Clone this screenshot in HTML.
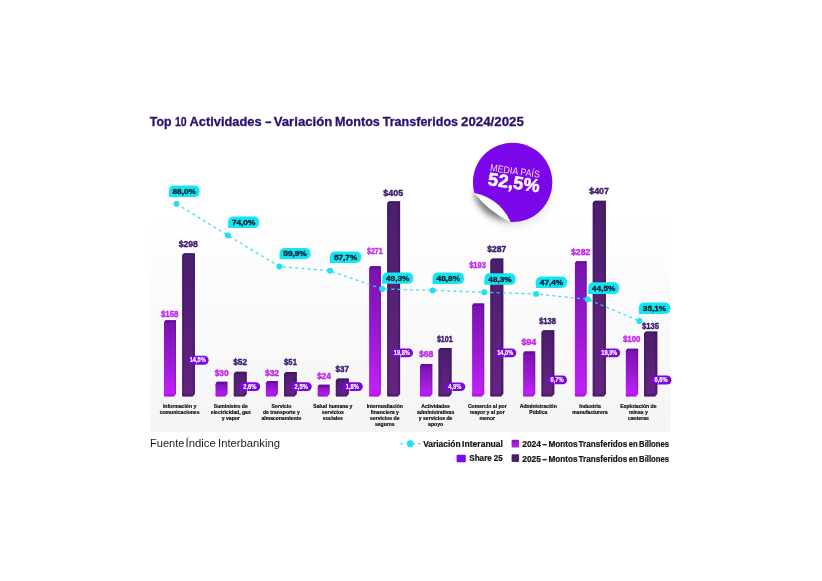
<!DOCTYPE html>
<html><head><meta charset="utf-8"><title>Top 10 Actividades</title>
<style>html,body{margin:0;padding:0;background:#fff;}body{width:822px;height:581px;overflow:hidden;font-family:"Liberation Sans",sans-serif;}svg{display:block;will-change:transform;transform:translateZ(0);}text{font-family:"Liberation Sans",sans-serif;}</style>
</head><body>
<svg width="822" height="581" viewBox="0 0 822 581">
<defs>
<linearGradient id="panel" x1="0" y1="0" x2="0" y2="1"><stop offset="0" stop-color="#ffffff"/><stop offset="0.12" stop-color="#ffffff"/><stop offset="0.45" stop-color="#fbfbfb"/><stop offset="1" stop-color="#f5f5f5"/></linearGradient>
<linearGradient id="pinkF" x1="0" y1="0" x2="0" y2="1"><stop offset="0" stop-color="#7613ae"/><stop offset="0.55" stop-color="#9c1ad4"/><stop offset="1" stop-color="#c521fc"/></linearGradient>
<linearGradient id="pinkS" x1="0" y1="0" x2="0" y2="1"><stop offset="0" stop-color="#5e0f90"/><stop offset="1" stop-color="#a21ad8"/></linearGradient>
<linearGradient id="darkF" x1="0" y1="0" x2="0" y2="1"><stop offset="0" stop-color="#4b1e6d"/><stop offset="1" stop-color="#65247f"/></linearGradient>
<linearGradient id="badge" x1="0" y1="0" x2="1" y2="1"><stop offset="0" stop-color="#8416ea"/><stop offset="1" stop-color="#7a0fe0"/></linearGradient>
<linearGradient id="curl" x1="1" y1="0" x2="0" y2="1"><stop offset="0" stop-color="#ffffff"/><stop offset="0.55" stop-color="#ffffff"/><stop offset="1" stop-color="#ececec"/></linearGradient>
<linearGradient id="lg24" x1="0" y1="0" x2="0" y2="1"><stop offset="0" stop-color="#8a18c0"/><stop offset="1" stop-color="#b822f0"/></linearGradient>
<filter id="sh" x="-50%" y="-50%" width="200%" height="200%"><feGaussianBlur stdDeviation="3"/></filter>
<filter id="sh2" x="-30%" y="-30%" width="160%" height="160%"><feGaussianBlur stdDeviation="5"/></filter>
</defs>
<rect width="822" height="581" fill="#fff"/>
<rect x="150.3" y="180" width="520.2" height="252.1" fill="url(#panel)"/>
<text x="149.8" y="126.4" font-size="13.3" font-weight="700" fill="#2d0f6b" stroke="#2d0f6b" stroke-width="0.3" textLength="21.7" lengthAdjust="spacingAndGlyphs">Top</text>
<text x="174.9" y="126.4" font-size="13.3" font-weight="700" fill="#2d0f6b" stroke="#2d0f6b" stroke-width="0.3" textLength="11.7" lengthAdjust="spacingAndGlyphs">10</text>
<text x="189.5" y="126.4" font-size="13.3" font-weight="700" fill="#2d0f6b" stroke="#2d0f6b" stroke-width="0.3" textLength="72.1" lengthAdjust="spacingAndGlyphs">Actividades</text>
<text x="264.9" y="126.4" font-size="13.3" font-weight="700" fill="#2d0f6b" stroke="#2d0f6b" stroke-width="0.3" textLength="6.8" lengthAdjust="spacingAndGlyphs">-</text>
<text x="273.7" y="126.4" font-size="13.3" font-weight="700" fill="#2d0f6b" stroke="#2d0f6b" stroke-width="0.3" textLength="58.7" lengthAdjust="spacingAndGlyphs">Variación</text>
<text x="335.0" y="126.4" font-size="13.3" font-weight="700" fill="#2d0f6b" stroke="#2d0f6b" stroke-width="0.3" textLength="44.9" lengthAdjust="spacingAndGlyphs">Montos</text>
<text x="382.7" y="126.4" font-size="13.3" font-weight="700" fill="#2d0f6b" stroke="#2d0f6b" stroke-width="0.3" textLength="75.4" lengthAdjust="spacingAndGlyphs">Transferidos</text>
<text x="461.0" y="126.4" font-size="13.3" font-weight="700" fill="#2d0f6b" stroke="#2d0f6b" stroke-width="0.3" textLength="62.8" lengthAdjust="spacingAndGlyphs">2024/2025</text>
<path d="M164.0 322.6 L165.4 320.2 L176.0 320.2 L176.0 393.8 L173.8 396.4 L164.5 396.4 L164.0 395.8 Z" fill="url(#pinkF)"/>
<path d="M174.6 322.6 L176.0 320.2 L176.0 393.8 L174.6 395.0 Z" fill="url(#pinkS)" opacity="0.7"/>
<path d="M164.0 322.6 L165.4 320.2 L176.0 320.2 L174.6 322.6 Z" fill="#650e9a"/>
<path d="M164.0 393.8 L176.0 393.8 L173.8 396.4 L164.5 396.4 L164.0 395.8 Z" fill="#a00cd8" opacity="0.5"/>
<path d="M182.1 255.7 Q182.1 255.1 182.6 254.6 L184.1 253.3 L194.9 253.3 L194.9 393.8 L192.7 396.4 L182.6 396.4 L182.1 395.8 Z" fill="url(#darkF)"/>
<rect x="182.1" y="255.6" width="2.2" height="140.1" fill="#3a1464" opacity="0.35"/>
<path d="M192.9 255.1 L194.9 253.3 L194.9 393.8 L192.9 395.4 Z" fill="#3a1563" opacity="0.6"/>
<path d="M182.1 393.8 L194.9 393.8 L192.7 396.4 L182.6 396.4 L182.1 395.8 Z" fill="#3d1462" opacity="0.45"/>
<path d="M182.1 255.1 L184.1 253.3 L194.9 253.3 L192.9 255.1 Z" fill="#3c1563" opacity="0.7"/>
<path d="M215.5 384.2 L216.9 381.8 L227.4 381.8 L227.4 393.8 L225.2 396.4 L216.0 396.4 L215.5 395.8 Z" fill="url(#pinkF)"/>
<path d="M226.0 384.2 L227.4 381.8 L227.4 393.8 L226.0 395.0 Z" fill="url(#pinkS)" opacity="0.7"/>
<path d="M215.5 384.2 L216.9 381.8 L227.4 381.8 L226.0 384.2 Z" fill="#650e9a"/>
<path d="M215.5 393.8 L227.4 393.8 L225.2 396.4 L216.0 396.4 L215.5 395.8 Z" fill="#a00cd8" opacity="0.5"/>
<path d="M233.8 374.1 Q233.8 373.5 234.3 373.0 L235.8 371.7 L246.7 371.7 L246.7 393.8 L244.5 396.4 L234.3 396.4 L233.8 395.8 Z" fill="url(#darkF)"/>
<rect x="233.8" y="374.0" width="2.2" height="21.7" fill="#3a1464" opacity="0.35"/>
<path d="M244.7 373.5 L246.7 371.7 L246.7 393.8 L244.7 395.4 Z" fill="#3a1563" opacity="0.6"/>
<path d="M233.8 393.8 L246.7 393.8 L244.5 396.4 L234.3 396.4 L233.8 395.8 Z" fill="#3d1462" opacity="0.45"/>
<path d="M233.8 373.5 L235.8 371.7 L246.7 371.7 L244.7 373.5 Z" fill="#3c1563" opacity="0.7"/>
<path d="M265.9 383.3 L267.3 380.9 L277.8 380.9 L277.8 393.8 L275.6 396.4 L266.4 396.4 L265.9 395.8 Z" fill="url(#pinkF)"/>
<path d="M276.4 383.3 L277.8 380.9 L277.8 393.8 L276.4 395.0 Z" fill="url(#pinkS)" opacity="0.7"/>
<path d="M265.9 383.3 L267.3 380.9 L277.8 380.9 L276.4 383.3 Z" fill="#650e9a"/>
<path d="M265.9 393.8 L277.8 393.8 L275.6 396.4 L266.4 396.4 L265.9 395.8 Z" fill="#a00cd8" opacity="0.5"/>
<path d="M284.0 374.5 Q284.0 373.9 284.5 373.4 L286.0 372.1 L296.8 372.1 L296.8 393.8 L294.6 396.4 L284.5 396.4 L284.0 395.8 Z" fill="url(#darkF)"/>
<rect x="284.0" y="374.4" width="2.2" height="21.3" fill="#3a1464" opacity="0.35"/>
<path d="M294.8 373.9 L296.8 372.1 L296.8 393.8 L294.8 395.4 Z" fill="#3a1563" opacity="0.6"/>
<path d="M284.0 393.8 L296.8 393.8 L294.6 396.4 L284.5 396.4 L284.0 395.8 Z" fill="#3d1462" opacity="0.45"/>
<path d="M284.0 373.9 L286.0 372.1 L296.8 372.1 L294.8 373.9 Z" fill="#3c1563" opacity="0.7"/>
<path d="M317.7 387.1 L319.1 384.7 L329.6 384.7 L329.6 393.8 L327.4 396.4 L318.2 396.4 L317.7 395.8 Z" fill="url(#pinkF)"/>
<path d="M328.2 387.1 L329.6 384.7 L329.6 393.8 L328.2 395.0 Z" fill="url(#pinkS)" opacity="0.7"/>
<path d="M317.7 387.1 L319.1 384.7 L329.6 384.7 L328.2 387.1 Z" fill="#650e9a"/>
<path d="M317.7 393.8 L329.6 393.8 L327.4 396.4 L318.2 396.4 L317.7 395.8 Z" fill="#a00cd8" opacity="0.5"/>
<path d="M335.8 380.9 Q335.8 380.3 336.3 379.8 L337.8 378.5 L348.8 378.5 L348.8 393.8 L346.6 396.4 L336.3 396.4 L335.8 395.8 Z" fill="url(#darkF)"/>
<rect x="335.8" y="380.8" width="2.2" height="14.9" fill="#3a1464" opacity="0.35"/>
<path d="M346.8 380.3 L348.8 378.5 L348.8 393.8 L346.8 395.4 Z" fill="#3a1563" opacity="0.6"/>
<path d="M335.8 393.8 L348.8 393.8 L346.6 396.4 L336.3 396.4 L335.8 395.8 Z" fill="#3d1462" opacity="0.45"/>
<path d="M335.8 380.3 L337.8 378.5 L348.8 378.5 L346.8 380.3 Z" fill="#3c1563" opacity="0.7"/>
<path d="M369.1 268.6 L370.5 266.2 L380.9 266.2 L380.9 393.8 L378.7 396.4 L369.6 396.4 L369.1 395.8 Z" fill="url(#pinkF)"/>
<path d="M379.5 268.6 L380.9 266.2 L380.9 393.8 L379.5 395.0 Z" fill="url(#pinkS)" opacity="0.7"/>
<path d="M369.1 268.6 L370.5 266.2 L380.9 266.2 L379.5 268.6 Z" fill="#650e9a"/>
<path d="M369.1 393.8 L380.9 393.8 L378.7 396.4 L369.6 396.4 L369.1 395.8 Z" fill="#a00cd8" opacity="0.5"/>
<path d="M387.1 203.7 Q387.1 203.1 387.6 202.6 L389.1 201.3 L400.1 201.3 L400.1 393.8 L397.9 396.4 L387.6 396.4 L387.1 395.8 Z" fill="url(#darkF)"/>
<rect x="387.1" y="203.6" width="2.2" height="192.1" fill="#3a1464" opacity="0.35"/>
<path d="M398.1 203.1 L400.1 201.3 L400.1 393.8 L398.1 395.4 Z" fill="#3a1563" opacity="0.6"/>
<path d="M387.1 393.8 L400.1 393.8 L397.9 396.4 L387.6 396.4 L387.1 395.8 Z" fill="#3d1462" opacity="0.45"/>
<path d="M387.1 203.1 L389.1 201.3 L400.1 201.3 L398.1 203.1 Z" fill="#3c1563" opacity="0.7"/>
<path d="M420.0 366.4 L421.4 364.0 L432.3 364.0 L432.3 393.8 L430.1 396.4 L420.5 396.4 L420.0 395.8 Z" fill="url(#pinkF)"/>
<path d="M430.9 366.4 L432.3 364.0 L432.3 393.8 L430.9 395.0 Z" fill="url(#pinkS)" opacity="0.7"/>
<path d="M420.0 366.4 L421.4 364.0 L432.3 364.0 L430.9 366.4 Z" fill="#650e9a"/>
<path d="M420.0 393.8 L432.3 393.8 L430.1 396.4 L420.5 396.4 L420.0 395.8 Z" fill="#a00cd8" opacity="0.5"/>
<path d="M438.4 350.4 Q438.4 349.8 438.9 349.3 L440.4 348.0 L451.6 348.0 L451.6 393.8 L449.4 396.4 L438.9 396.4 L438.4 395.8 Z" fill="url(#darkF)"/>
<rect x="438.4" y="350.3" width="2.2" height="45.4" fill="#3a1464" opacity="0.35"/>
<path d="M449.6 349.8 L451.6 348.0 L451.6 393.8 L449.6 395.4 Z" fill="#3a1563" opacity="0.6"/>
<path d="M438.4 393.8 L451.6 393.8 L449.4 396.4 L438.9 396.4 L438.4 395.8 Z" fill="#3d1462" opacity="0.45"/>
<path d="M438.4 349.8 L440.4 348.0 L451.6 348.0 L449.6 349.8 Z" fill="#3c1563" opacity="0.7"/>
<path d="M472.1 305.8 L473.5 303.4 L484.2 303.4 L484.2 393.8 L482.0 396.4 L472.6 396.4 L472.1 395.8 Z" fill="url(#pinkF)"/>
<path d="M482.8 305.8 L484.2 303.4 L484.2 393.8 L482.8 395.0 Z" fill="url(#pinkS)" opacity="0.7"/>
<path d="M472.1 305.8 L473.5 303.4 L484.2 303.4 L482.8 305.8 Z" fill="#650e9a"/>
<path d="M472.1 393.8 L484.2 393.8 L482.0 396.4 L472.6 396.4 L472.1 395.8 Z" fill="#a00cd8" opacity="0.5"/>
<path d="M490.3 260.9 Q490.3 260.3 490.8 259.8 L492.3 258.5 L503.3 258.5 L503.3 393.8 L501.1 396.4 L490.8 396.4 L490.3 395.8 Z" fill="url(#darkF)"/>
<rect x="490.3" y="260.8" width="2.2" height="134.9" fill="#3a1464" opacity="0.35"/>
<path d="M501.3 260.3 L503.3 258.5 L503.3 393.8 L501.3 395.4 Z" fill="#3a1563" opacity="0.6"/>
<path d="M490.3 393.8 L503.3 393.8 L501.1 396.4 L490.8 396.4 L490.3 395.8 Z" fill="#3d1462" opacity="0.45"/>
<path d="M490.3 260.3 L492.3 258.5 L503.3 258.5 L501.3 260.3 Z" fill="#3c1563" opacity="0.7"/>
<path d="M523.1 353.8 L524.5 351.4 L535.2 351.4 L535.2 393.8 L533.0 396.4 L523.6 396.4 L523.1 395.8 Z" fill="url(#pinkF)"/>
<path d="M533.8 353.8 L535.2 351.4 L535.2 393.8 L533.8 395.0 Z" fill="url(#pinkS)" opacity="0.7"/>
<path d="M523.1 353.8 L524.5 351.4 L535.2 351.4 L533.8 353.8 Z" fill="#650e9a"/>
<path d="M523.1 393.8 L535.2 393.8 L533.0 396.4 L523.6 396.4 L523.1 395.8 Z" fill="#a00cd8" opacity="0.5"/>
<path d="M541.4 332.7 Q541.4 332.1 541.9 331.6 L543.4 330.3 L554.3 330.3 L554.3 393.8 L552.1 396.4 L541.9 396.4 L541.4 395.8 Z" fill="url(#darkF)"/>
<rect x="541.4" y="332.6" width="2.2" height="63.1" fill="#3a1464" opacity="0.35"/>
<path d="M552.3 332.1 L554.3 330.3 L554.3 393.8 L552.3 395.4 Z" fill="#3a1563" opacity="0.6"/>
<path d="M541.4 393.8 L554.3 393.8 L552.1 396.4 L541.9 396.4 L541.4 395.8 Z" fill="#3d1462" opacity="0.45"/>
<path d="M541.4 332.1 L543.4 330.3 L554.3 330.3 L552.3 332.1 Z" fill="#3c1563" opacity="0.7"/>
<path d="M574.9 263.6 L576.3 261.2 L586.6 261.2 L586.6 393.8 L584.4 396.4 L575.4 396.4 L574.9 395.8 Z" fill="url(#pinkF)"/>
<path d="M585.2 263.6 L586.6 261.2 L586.6 393.8 L585.2 395.0 Z" fill="url(#pinkS)" opacity="0.7"/>
<path d="M574.9 263.6 L576.3 261.2 L586.6 261.2 L585.2 263.6 Z" fill="#650e9a"/>
<path d="M574.9 393.8 L586.6 393.8 L584.4 396.4 L575.4 396.4 L574.9 395.8 Z" fill="#a00cd8" opacity="0.5"/>
<path d="M592.7 203.1 Q592.7 202.5 593.2 202.0 L594.7 200.7 L605.9 200.7 L605.9 393.8 L603.7 396.4 L593.2 396.4 L592.7 395.8 Z" fill="url(#darkF)"/>
<rect x="592.7" y="203.0" width="2.2" height="192.7" fill="#3a1464" opacity="0.35"/>
<path d="M603.9 202.5 L605.9 200.7 L605.9 393.8 L603.9 395.4 Z" fill="#3a1563" opacity="0.6"/>
<path d="M592.7 393.8 L605.9 393.8 L603.7 396.4 L593.2 396.4 L592.7 395.8 Z" fill="#3d1462" opacity="0.45"/>
<path d="M592.7 202.5 L594.7 200.7 L605.9 200.7 L603.9 202.5 Z" fill="#3c1563" opacity="0.7"/>
<path d="M625.8 351.1 L627.2 348.7 L638.1 348.7 L638.1 393.8 L635.9 396.4 L626.3 396.4 L625.8 395.8 Z" fill="url(#pinkF)"/>
<path d="M636.7 351.1 L638.1 348.7 L638.1 393.8 L636.7 395.0 Z" fill="url(#pinkS)" opacity="0.7"/>
<path d="M625.8 351.1 L627.2 348.7 L638.1 348.7 L636.7 351.1 Z" fill="#650e9a"/>
<path d="M625.8 393.8 L638.1 393.8 L635.9 396.4 L626.3 396.4 L625.8 395.8 Z" fill="#a00cd8" opacity="0.5"/>
<path d="M644.0 333.9 Q644.0 333.3 644.5 332.8 L646.0 331.5 L657.3 331.5 L657.3 393.8 L655.1 396.4 L644.5 396.4 L644.0 395.8 Z" fill="url(#darkF)"/>
<rect x="644.0" y="333.8" width="2.2" height="61.9" fill="#3a1464" opacity="0.35"/>
<path d="M655.3 333.3 L657.3 331.5 L657.3 393.8 L655.3 395.4 Z" fill="#3a1563" opacity="0.6"/>
<path d="M644.0 393.8 L657.3 393.8 L655.1 396.4 L644.5 396.4 L644.0 395.8 Z" fill="#3d1462" opacity="0.45"/>
<path d="M644.0 333.3 L646.0 331.5 L657.3 331.5 L655.3 333.3 Z" fill="#3c1563" opacity="0.7"/>
<text x="161.0" y="317.1" font-size="8.3" font-weight="700" fill="#c128ea" stroke="#c128ea" stroke-width="0.4" textLength="17.4" lengthAdjust="spacingAndGlyphs">$158</text>
<text x="178.8" y="247.3" font-size="8.3" font-weight="700" fill="#3a1a6a" stroke="#3a1a6a" stroke-width="0.4" textLength="19.1" lengthAdjust="spacingAndGlyphs">$298</text>
<text x="214.7" y="375.9" font-size="8.3" font-weight="700" fill="#c128ea" stroke="#c128ea" stroke-width="0.4" textLength="14.0" lengthAdjust="spacingAndGlyphs">$30</text>
<text x="233.2" y="365.0" font-size="8.3" font-weight="700" fill="#3a1a6a" stroke="#3a1a6a" stroke-width="0.4" textLength="14.0" lengthAdjust="spacingAndGlyphs">$52</text>
<text x="265.0" y="375.9" font-size="8.3" font-weight="700" fill="#c128ea" stroke="#c128ea" stroke-width="0.4" textLength="14.0" lengthAdjust="spacingAndGlyphs">$32</text>
<text x="284.1" y="365.0" font-size="8.3" font-weight="700" fill="#3a1a6a" stroke="#3a1a6a" stroke-width="0.4" textLength="12.8" lengthAdjust="spacingAndGlyphs">$51</text>
<text x="316.9" y="379.2" font-size="8.3" font-weight="700" fill="#c128ea" stroke="#c128ea" stroke-width="0.4" textLength="14.0" lengthAdjust="spacingAndGlyphs">$24</text>
<text x="335.5" y="371.9" font-size="8.3" font-weight="700" fill="#3a1a6a" stroke="#3a1a6a" stroke-width="0.4" textLength="13.4" lengthAdjust="spacingAndGlyphs">$37</text>
<text x="367.1" y="253.5" font-size="8.3" font-weight="700" fill="#c128ea" stroke="#c128ea" stroke-width="0.4" textLength="15.5" lengthAdjust="spacingAndGlyphs">$271</text>
<text x="383.3" y="195.6" font-size="8.3" font-weight="700" fill="#3a1a6a" stroke="#3a1a6a" stroke-width="0.4" textLength="19.8" lengthAdjust="spacingAndGlyphs">$405</text>
<text x="418.9" y="357.4" font-size="8.3" font-weight="700" fill="#c128ea" stroke="#c128ea" stroke-width="0.4" textLength="14.5" lengthAdjust="spacingAndGlyphs">$68</text>
<text x="436.9" y="341.5" font-size="8.3" font-weight="700" fill="#3a1a6a" stroke="#3a1a6a" stroke-width="0.4" textLength="15.9" lengthAdjust="spacingAndGlyphs">$101</text>
<text x="469.2" y="267.7" font-size="8.3" font-weight="700" fill="#c128ea" stroke="#c128ea" stroke-width="0.4" textLength="16.7" lengthAdjust="spacingAndGlyphs">$193</text>
<text x="487.2" y="252.4" font-size="8.3" font-weight="700" fill="#3a1a6a" stroke="#3a1a6a" stroke-width="0.4" textLength="19.0" lengthAdjust="spacingAndGlyphs">$287</text>
<text x="521.4" y="344.8" font-size="8.3" font-weight="700" fill="#c128ea" stroke="#c128ea" stroke-width="0.4" textLength="14.7" lengthAdjust="spacingAndGlyphs">$94</text>
<text x="538.9" y="323.7" font-size="8.3" font-weight="700" fill="#3a1a6a" stroke="#3a1a6a" stroke-width="0.4" textLength="17.1" lengthAdjust="spacingAndGlyphs">$138</text>
<text x="571.1" y="254.5" font-size="8.3" font-weight="700" fill="#c128ea" stroke="#c128ea" stroke-width="0.4" textLength="19.1" lengthAdjust="spacingAndGlyphs">$282</text>
<text x="589.2" y="194.0" font-size="8.3" font-weight="700" fill="#3a1a6a" stroke="#3a1a6a" stroke-width="0.4" textLength="19.8" lengthAdjust="spacingAndGlyphs">$407</text>
<text x="623.0" y="341.8" font-size="8.3" font-weight="700" fill="#c128ea" stroke="#c128ea" stroke-width="0.4" textLength="17.5" lengthAdjust="spacingAndGlyphs">$100</text>
<text x="642.0" y="328.8" font-size="8.3" font-weight="700" fill="#3a1a6a" stroke="#3a1a6a" stroke-width="0.4" textLength="17.0" lengthAdjust="spacingAndGlyphs">$135</text>
<rect x="188.2" y="355.8" width="20.4" height="8.9" rx="4.4" fill="#7a08dc"/>
<text x="189.7" y="362.4" font-size="6.3" font-weight="700" fill="#ffffff" stroke="#fff" stroke-width="0.18" textLength="16.0" lengthAdjust="spacingAndGlyphs">14,5%</text>
<rect x="239.5" y="382.2" width="20.7" height="8.8" rx="4.4" fill="#7a08dc"/>
<text x="243.2" y="388.7" font-size="6.3" font-weight="700" fill="#ffffff" stroke="#fff" stroke-width="0.18" textLength="13.2" lengthAdjust="spacingAndGlyphs">2,6%</text>
<rect x="290.8" y="382.2" width="20.9" height="8.8" rx="4.4" fill="#7a08dc"/>
<text x="294.6" y="388.7" font-size="6.3" font-weight="700" fill="#ffffff" stroke="#fff" stroke-width="0.18" textLength="13.2" lengthAdjust="spacingAndGlyphs">2,5%</text>
<rect x="342.0" y="382.2" width="20.8" height="8.7" rx="4.3" fill="#7a08dc"/>
<text x="345.8" y="388.6" font-size="6.3" font-weight="700" fill="#ffffff" stroke="#fff" stroke-width="0.18" textLength="13.2" lengthAdjust="spacingAndGlyphs">1,8%</text>
<rect x="391.9" y="348.5" width="21.1" height="8.8" rx="4.4" fill="#7a08dc"/>
<text x="393.8" y="355.0" font-size="6.3" font-weight="700" fill="#ffffff" stroke="#fff" stroke-width="0.18" textLength="16.0" lengthAdjust="spacingAndGlyphs">19,8%</text>
<rect x="444.4" y="382.4" width="20.9" height="8.7" rx="4.4" fill="#7a08dc"/>
<text x="448.2" y="388.8" font-size="6.3" font-weight="700" fill="#ffffff" stroke="#fff" stroke-width="0.18" textLength="13.2" lengthAdjust="spacingAndGlyphs">4,9%</text>
<rect x="495.5" y="348.5" width="20.8" height="8.8" rx="4.4" fill="#7a08dc"/>
<text x="497.2" y="355.0" font-size="6.3" font-weight="700" fill="#ffffff" stroke="#fff" stroke-width="0.18" textLength="16.0" lengthAdjust="spacingAndGlyphs">14,0%</text>
<rect x="547.2" y="375.6" width="19.8" height="8.7" rx="4.3" fill="#7a08dc"/>
<text x="550.5" y="382.0" font-size="6.3" font-weight="700" fill="#ffffff" stroke="#fff" stroke-width="0.18" textLength="13.2" lengthAdjust="spacingAndGlyphs">6,7%</text>
<rect x="599.8" y="348.5" width="20.4" height="8.7" rx="4.3" fill="#7a08dc"/>
<text x="601.3" y="354.9" font-size="6.3" font-weight="700" fill="#ffffff" stroke="#fff" stroke-width="0.18" textLength="16.0" lengthAdjust="spacingAndGlyphs">19,9%</text>
<rect x="650.8" y="375.5" width="20.7" height="9.1" rx="4.6" fill="#7a08dc"/>
<text x="654.5" y="382.3" font-size="6.3" font-weight="700" fill="#ffffff" stroke="#fff" stroke-width="0.18" textLength="13.2" lengthAdjust="spacingAndGlyphs">6,6%</text>
<polyline points="176.5,203.8 228.0,235.5 279.4,266.5 330.0,270.8 382.2,288.9 432.8,290.4 484.3,292.3 536.1,294.0 587.6,299.3 639.4,321.0" fill="none" stroke="#25e0f2" stroke-width="1.3" stroke-dasharray="3 3.2" opacity="0.9"/>
<circle cx="176.5" cy="203.8" r="3.0" fill="#1fe0f4"/>
<circle cx="228.0" cy="235.5" r="3.0" fill="#1fe0f4"/>
<circle cx="279.4" cy="266.5" r="3.0" fill="#1fe0f4"/>
<circle cx="330.0" cy="270.8" r="3.0" fill="#1fe0f4"/>
<circle cx="382.2" cy="288.9" r="3.0" fill="#1fe0f4"/>
<circle cx="432.8" cy="290.4" r="3.0" fill="#1fe0f4"/>
<circle cx="484.3" cy="292.3" r="3.0" fill="#1fe0f4"/>
<circle cx="536.1" cy="294.0" r="3.0" fill="#1fe0f4"/>
<circle cx="587.6" cy="299.3" r="3.0" fill="#1fe0f4"/>
<circle cx="639.4" cy="321.0" r="3.0" fill="#1fe0f4"/>
<path d="M168.8 197.0 L168.8 191.1 Q168.8 185.5 174.4 185.5 L194.0 185.5 Q199.6 185.5 199.6 191.1 L199.6 191.4 Q199.6 197.0 194.0 197.0 Z" fill="#14e5f5"/>
<text x="172.5" y="194.2" font-size="7.7" font-weight="700" fill="#04222c" stroke="#04222c" stroke-width="0.38" textLength="23.4" lengthAdjust="spacingAndGlyphs">88,0%</text>
<path d="M228.1 228.0 L228.1 222.1 Q228.1 216.5 233.7 216.5 L253.5 216.5 Q259.1 216.5 259.1 222.1 L259.1 222.4 Q259.1 228.0 253.5 228.0 Z" fill="#14e5f5"/>
<text x="231.9" y="225.2" font-size="7.7" font-weight="700" fill="#04222c" stroke="#04222c" stroke-width="0.38" textLength="23.4" lengthAdjust="spacingAndGlyphs">74,0%</text>
<path d="M279.5 259.2 L279.5 253.5 Q279.5 247.9 285.1 247.9 L304.9 247.9 Q310.5 247.9 310.5 253.5 L310.5 253.6 Q310.5 259.2 304.9 259.2 Z" fill="#14e5f5"/>
<text x="283.3" y="256.4" font-size="7.7" font-weight="700" fill="#04222c" stroke="#04222c" stroke-width="0.38" textLength="23.4" lengthAdjust="spacingAndGlyphs">59,9%</text>
<path d="M330.0 262.9 L330.0 257.2 Q330.0 251.6 335.6 251.6 L355.6 251.6 Q361.2 251.6 361.2 257.2 L361.2 257.3 Q361.2 262.9 355.6 262.9 Z" fill="#14e5f5"/>
<text x="333.9" y="260.1" font-size="7.7" font-weight="700" fill="#04222c" stroke="#04222c" stroke-width="0.38" textLength="23.4" lengthAdjust="spacingAndGlyphs">57,7%</text>
<path d="M382.2 283.8 L382.2 278.1 Q382.2 272.5 387.8 272.5 L407.6 272.5 Q413.2 272.5 413.2 278.1 L413.2 278.2 Q413.2 283.8 407.6 283.8 Z" fill="#14e5f5"/>
<text x="386.0" y="281.0" font-size="7.7" font-weight="700" fill="#04222c" stroke="#04222c" stroke-width="0.38" textLength="23.4" lengthAdjust="spacingAndGlyphs">49,3%</text>
<path d="M432.6 284.0 L432.6 278.1 Q432.6 272.5 438.2 272.5 L458.4 272.5 Q464.0 272.5 464.0 278.1 L464.0 278.4 Q464.0 284.0 458.4 284.0 Z" fill="#14e5f5"/>
<text x="436.6" y="281.2" font-size="7.7" font-weight="700" fill="#04222c" stroke="#04222c" stroke-width="0.38" textLength="23.4" lengthAdjust="spacingAndGlyphs">48,8%</text>
<path d="M484.3 284.8 L484.3 278.8 Q484.3 273.2 489.9 273.2 L510.0 273.2 Q515.6 273.2 515.6 278.8 L515.6 279.2 Q515.6 284.8 510.0 284.8 Z" fill="#14e5f5"/>
<text x="488.3" y="282.0" font-size="7.7" font-weight="700" fill="#04222c" stroke="#04222c" stroke-width="0.38" textLength="23.4" lengthAdjust="spacingAndGlyphs">48,3%</text>
<path d="M535.9 287.9 L535.9 282.1 Q535.9 276.5 541.5 276.5 L561.5 276.5 Q567.1 276.5 567.1 282.1 L567.1 282.3 Q567.1 287.9 561.5 287.9 Z" fill="#14e5f5"/>
<text x="539.8" y="285.1" font-size="7.7" font-weight="700" fill="#04222c" stroke="#04222c" stroke-width="0.38" textLength="23.4" lengthAdjust="spacingAndGlyphs">47,4%</text>
<path d="M588.2 294.0 L588.2 287.9 Q588.2 282.3 593.8 282.3 L613.6 282.3 Q619.2 282.3 619.2 287.9 L619.2 288.4 Q619.2 294.0 613.6 294.0 Z" fill="#14e5f5"/>
<text x="592.0" y="291.2" font-size="7.7" font-weight="700" fill="#04222c" stroke="#04222c" stroke-width="0.38" textLength="23.4" lengthAdjust="spacingAndGlyphs">44,5%</text>
<path d="M638.8 314.0 L638.8 308.2 Q638.8 302.6 644.4 302.6 L664.7 302.6 Q670.3 302.6 670.3 308.2 L670.3 308.4 Q670.3 314.0 664.7 314.0 Z" fill="#14e5f5"/>
<text x="642.8" y="311.2" font-size="7.7" font-weight="700" fill="#04222c" stroke="#04222c" stroke-width="0.38" textLength="23.4" lengthAdjust="spacingAndGlyphs">35,1%</text>
<text x="179.6" y="407.8" font-size="5.1" font-weight="700" fill="#0e0e0e" stroke="#0e0e0e" stroke-width="0.2" text-anchor="middle">Información y</text>
<text x="179.6" y="413.8" font-size="5.1" font-weight="700" fill="#0e0e0e" stroke="#0e0e0e" stroke-width="0.2" text-anchor="middle">comunicaciones</text>
<text x="230.8" y="407.8" font-size="5.1" font-weight="700" fill="#0e0e0e" stroke="#0e0e0e" stroke-width="0.2" text-anchor="middle">Suministro de</text>
<text x="230.8" y="413.8" font-size="5.1" font-weight="700" fill="#0e0e0e" stroke="#0e0e0e" stroke-width="0.2" text-anchor="middle">electricidad, gas</text>
<text x="230.8" y="419.7" font-size="5.1" font-weight="700" fill="#0e0e0e" stroke="#0e0e0e" stroke-width="0.2" text-anchor="middle">y vapor</text>
<text x="281.4" y="407.8" font-size="5.1" font-weight="700" fill="#0e0e0e" stroke="#0e0e0e" stroke-width="0.2" text-anchor="middle">Servicio</text>
<text x="281.4" y="413.8" font-size="5.1" font-weight="700" fill="#0e0e0e" stroke="#0e0e0e" stroke-width="0.2" text-anchor="middle">de transporte y</text>
<text x="281.4" y="419.7" font-size="5.1" font-weight="700" fill="#0e0e0e" stroke="#0e0e0e" stroke-width="0.2" text-anchor="middle">almacenamiento</text>
<text x="332.9" y="407.8" font-size="5.1" font-weight="700" fill="#0e0e0e" stroke="#0e0e0e" stroke-width="0.2" text-anchor="middle">Salud humana y</text>
<text x="332.9" y="413.8" font-size="5.1" font-weight="700" fill="#0e0e0e" stroke="#0e0e0e" stroke-width="0.2" text-anchor="middle">servicios</text>
<text x="332.9" y="419.7" font-size="5.1" font-weight="700" fill="#0e0e0e" stroke="#0e0e0e" stroke-width="0.2" text-anchor="middle">sociales</text>
<text x="384.8" y="407.8" font-size="5.1" font-weight="700" fill="#0e0e0e" stroke="#0e0e0e" stroke-width="0.2" text-anchor="middle">Intermediación</text>
<text x="384.8" y="413.8" font-size="5.1" font-weight="700" fill="#0e0e0e" stroke="#0e0e0e" stroke-width="0.2" text-anchor="middle">financiera y</text>
<text x="384.8" y="419.7" font-size="5.1" font-weight="700" fill="#0e0e0e" stroke="#0e0e0e" stroke-width="0.2" text-anchor="middle">servicios de</text>
<text x="384.8" y="425.7" font-size="5.1" font-weight="700" fill="#0e0e0e" stroke="#0e0e0e" stroke-width="0.2" text-anchor="middle">seguros</text>
<text x="435.6" y="407.8" font-size="5.1" font-weight="700" fill="#0e0e0e" stroke="#0e0e0e" stroke-width="0.2" text-anchor="middle">Actividades</text>
<text x="435.6" y="413.8" font-size="5.1" font-weight="700" fill="#0e0e0e" stroke="#0e0e0e" stroke-width="0.2" text-anchor="middle">administrativas</text>
<text x="435.6" y="419.7" font-size="5.1" font-weight="700" fill="#0e0e0e" stroke="#0e0e0e" stroke-width="0.2" text-anchor="middle">y servicios de</text>
<text x="435.6" y="425.7" font-size="5.1" font-weight="700" fill="#0e0e0e" stroke="#0e0e0e" stroke-width="0.2" text-anchor="middle">apoyo</text>
<text x="487.3" y="407.8" font-size="5.1" font-weight="700" fill="#0e0e0e" stroke="#0e0e0e" stroke-width="0.2" text-anchor="middle">Comercio al por</text>
<text x="487.3" y="413.8" font-size="5.1" font-weight="700" fill="#0e0e0e" stroke="#0e0e0e" stroke-width="0.2" text-anchor="middle">mayor y al por</text>
<text x="487.3" y="419.7" font-size="5.1" font-weight="700" fill="#0e0e0e" stroke="#0e0e0e" stroke-width="0.2" text-anchor="middle">menor</text>
<text x="538.3" y="407.8" font-size="5.1" font-weight="700" fill="#0e0e0e" stroke="#0e0e0e" stroke-width="0.2" text-anchor="middle">Administración</text>
<text x="538.3" y="413.8" font-size="5.1" font-weight="700" fill="#0e0e0e" stroke="#0e0e0e" stroke-width="0.2" text-anchor="middle">Pública</text>
<text x="590.0" y="407.8" font-size="5.1" font-weight="700" fill="#0e0e0e" stroke="#0e0e0e" stroke-width="0.2" text-anchor="middle">Industria</text>
<text x="590.0" y="413.8" font-size="5.1" font-weight="700" fill="#0e0e0e" stroke="#0e0e0e" stroke-width="0.2" text-anchor="middle">manufacturera</text>
<text x="638.4" y="407.8" font-size="5.1" font-weight="700" fill="#0e0e0e" stroke="#0e0e0e" stroke-width="0.2" text-anchor="middle">Explotación de</text>
<text x="638.4" y="413.8" font-size="5.1" font-weight="700" fill="#0e0e0e" stroke="#0e0e0e" stroke-width="0.2" text-anchor="middle">minas y</text>
<text x="638.4" y="419.7" font-size="5.1" font-weight="700" fill="#0e0e0e" stroke="#0e0e0e" stroke-width="0.2" text-anchor="middle">canteras</text>
<path d="M476 191 L512 220 Q484 220.5 474 195 Z" fill="#000" opacity="0.5" filter="url(#sh)"/>
<ellipse cx="514" cy="190" rx="38" ry="36" fill="#000" opacity="0.10" filter="url(#sh2)"/>
<path d="M474.4 193.1 A39.7 39.7 0 1 1 510.5 222 Z" fill="#7c06ea"/>
<path d="M474.2 192.9 C488 195.5 503 204 510.6 222.2 Q489.2 211.6 474.2 192.9 Z" fill="url(#curl)"/>
<g transform="rotate(8 514 178)">
<text x="489.0" y="174.3" font-size="9.9" font-weight="400" fill="#efd2ff" textLength="50.2" lengthAdjust="spacingAndGlyphs">MEDIA PAÍS</text>
<text x="488.6" y="188.7" font-size="18.2" font-weight="700" fill="#ffffff" stroke="#fff" stroke-width="0.5" textLength="52" lengthAdjust="spacingAndGlyphs">52,5%</text>
</g>
<text x="150.0" y="447.3" font-size="11" fill="#1d1d1d" textLength="34.4" lengthAdjust="spacingAndGlyphs">Fuente</text>
<text x="185.6" y="447.3" font-size="11" fill="#1d1d1d" textLength="30.2" lengthAdjust="spacingAndGlyphs">Índice</text>
<text x="218.0" y="447.3" font-size="11" fill="#1d1d1d" textLength="62.0" lengthAdjust="spacingAndGlyphs">Interbanking</text>
<line x1="400.6" y1="443.8" x2="403.2" y2="443.8" stroke="#35dde6" stroke-width="1.4" opacity="0.9"/>
<line x1="417.9" y1="443.8" x2="420.4" y2="443.8" stroke="#35dde6" stroke-width="1.4" opacity="0.9"/>
<line x1="412" y1="443.8" x2="415.0" y2="443.8" stroke="#35dde6" stroke-width="1.4" opacity="0.8"/>
<circle cx="410.2" cy="443.8" r="3.45" fill="#1fe0f4"/>
<text x="423.2" y="446.9" font-size="8.7" font-weight="700" fill="#141414" stroke="#141414" stroke-width="0.22" textLength="37.4" lengthAdjust="spacingAndGlyphs">Variación</text>
<text x="462.1" y="446.9" font-size="8.7" font-weight="700" fill="#141414" stroke="#141414" stroke-width="0.22" textLength="40.9" lengthAdjust="spacingAndGlyphs">Interanual</text>
<rect x="511.6" y="439.8" width="7.5" height="7.7" rx="1.1" fill="url(#lg24)"/>
<text x="522.3" y="447.1" font-size="8.7" font-weight="700" fill="#141414" stroke="#141414" stroke-width="0.22" textLength="18.6" lengthAdjust="spacingAndGlyphs">2024</text>
<text x="542.3" y="447.1" font-size="8.7" font-weight="700" fill="#141414" stroke="#141414" stroke-width="0.22" textLength="4.8" lengthAdjust="spacingAndGlyphs">-</text>
<text x="548.5" y="447.1" font-size="8.7" font-weight="700" fill="#141414" stroke="#141414" stroke-width="0.22" textLength="29.2" lengthAdjust="spacingAndGlyphs">Montos</text>
<text x="578.5" y="447.1" font-size="8.7" font-weight="700" fill="#141414" stroke="#141414" stroke-width="0.22" textLength="48.8" lengthAdjust="spacingAndGlyphs">Transferidos</text>
<text x="628.8" y="447.1" font-size="8.7" font-weight="700" fill="#141414" stroke="#141414" stroke-width="0.22" textLength="8.9" lengthAdjust="spacingAndGlyphs">en</text>
<text x="639.1" y="447.1" font-size="8.7" font-weight="700" fill="#141414" stroke="#141414" stroke-width="0.22" textLength="30.0" lengthAdjust="spacingAndGlyphs">Billones</text>
<rect x="456.6" y="454.7" width="9.2" height="7.6" rx="1.1" fill="#7e08ee"/>
<text x="469.2" y="461.2" font-size="8.7" font-weight="700" fill="#141414" stroke="#141414" stroke-width="0.22" textLength="22.7" lengthAdjust="spacingAndGlyphs">Share</text>
<text x="493.7" y="461.2" font-size="8.7" font-weight="700" fill="#141414" stroke="#141414" stroke-width="0.22" textLength="8.9" lengthAdjust="spacingAndGlyphs">25</text>
<rect x="511.6" y="454.3" width="7.5" height="7.7" rx="1.1" fill="#4c1f6e"/>
<text x="522.3" y="461.5" font-size="8.7" font-weight="700" fill="#141414" stroke="#141414" stroke-width="0.22" textLength="18.6" lengthAdjust="spacingAndGlyphs">2025</text>
<text x="542.3" y="461.5" font-size="8.7" font-weight="700" fill="#141414" stroke="#141414" stroke-width="0.22" textLength="4.8" lengthAdjust="spacingAndGlyphs">-</text>
<text x="548.5" y="461.5" font-size="8.7" font-weight="700" fill="#141414" stroke="#141414" stroke-width="0.22" textLength="29.2" lengthAdjust="spacingAndGlyphs">Montos</text>
<text x="578.5" y="461.5" font-size="8.7" font-weight="700" fill="#141414" stroke="#141414" stroke-width="0.22" textLength="48.8" lengthAdjust="spacingAndGlyphs">Transferidos</text>
<text x="628.8" y="461.5" font-size="8.7" font-weight="700" fill="#141414" stroke="#141414" stroke-width="0.22" textLength="8.9" lengthAdjust="spacingAndGlyphs">en</text>
<text x="639.1" y="461.5" font-size="8.7" font-weight="700" fill="#141414" stroke="#141414" stroke-width="0.22" textLength="30.0" lengthAdjust="spacingAndGlyphs">Billones</text>
</svg></body></html>
